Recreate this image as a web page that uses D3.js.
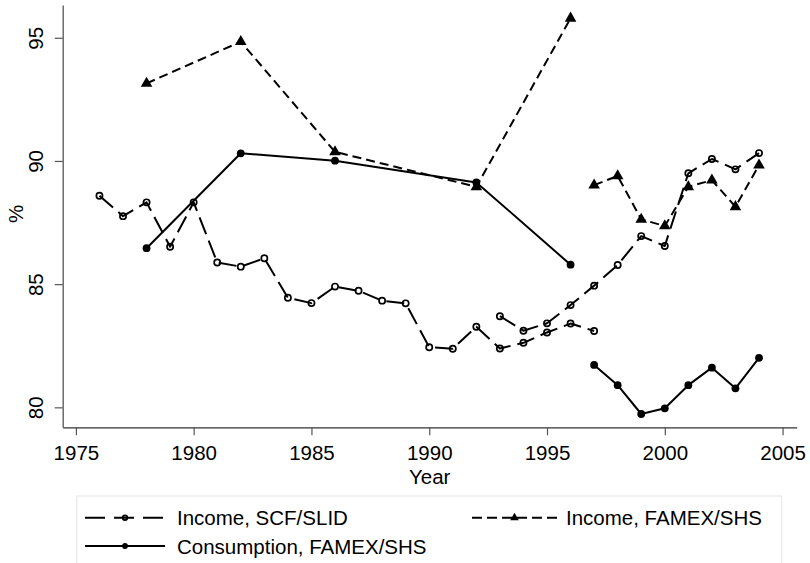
<!DOCTYPE html>
<html>
<head>
<meta charset="utf-8">
<script src="https://cdn.jsdelivr.net/npm/d3@7"></script>
<style>
  html, body { margin: 0; padding: 0; background: #fff; }
  svg { display: block; font-family: "Liberation Sans", Arial, Helvetica, sans-serif; }
</style>
</head>
<body>
<svg id="chart" width="810" height="563"></svg>
<script>
// Income survey series (SCF, then SLID)
const scfYears = [1976, 1977, 1978, 1979, 1980, 1981, 1982, 1983, 1984, 1985, 1986,
                  1987, 1988, 1989, 1990, 1991, 1992, 1993, 1994, 1995, 1996, 1997];
const scfValues = [88.59, 87.76, 88.32, 86.52, 88.32, 85.88, 85.71, 86.05, 84.45, 84.23, 84.90,
                   84.73, 84.33, 84.22, 82.44, 82.38, 83.27, 82.39, 82.62, 83.04, 83.40, 83.10];
const slidYears = [1993, 1994, 1995, 1996, 1997, 1998, 1999, 2000, 2001, 2002, 2003, 2004];
const slidValues = [83.70, 83.11, 83.41, 84.15, 84.94, 85.78, 86.95, 86.55, 89.50, 90.08, 89.66, 90.32];

// Expenditure survey series (FAMEX, then SHS)
const famexYears = [1978, 1982, 1986, 1992, 1996];
const famexIncome = [93.15, 94.84, 90.37, 88.95, 95.79];
const famexConsumption = [86.46, 90.31, 90.01, 89.13, 85.79];
const shsYears = [1997, 1998, 1999, 2000, 2001, 2002, 2003, 2004];
const shsIncome = [89.02, 89.39, 87.63, 87.36, 88.95, 89.22, 88.14, 89.83];
const shsConsumption = [81.72, 80.90, 79.73, 79.96, 80.90, 81.61, 80.77, 82.01];

const xTicks = [1975, 1980, 1985, 1990, 1995, 2000, 2005];
const yTicks = [80, 85, 90, 95];
const legendLabels = ["Income, SCF/SLID", "Income, FAMEX/SHS", "Consumption, FAMEX/SHS"];

const svg = d3.select("#chart");
const FONT = 20.5;

const x = d3.scaleLinear().domain([1974.44, 2005.6]).range([62.7, 796.7]);
const y = d3.scaleLinear().domain([79.19, 96.33]).range([427.3, 5]);

const zip = (xs, vs) => xs.map((d, i) => ({ year: d, value: vs[i] }));

// Axes
const xAxis = svg.append("g")
  .attr("transform", "translate(0,427.3)")
  .call(d3.axisBottom(x).tickValues(xTicks).tickFormat(d3.format("d")).tickSize(8).tickSizeOuter(0));
xAxis.select(".domain").attr("stroke", "#333").attr("stroke-width", 1.3);
xAxis.selectAll(".tick line").attr("stroke", "#555").attr("stroke-width", 1.2);
xAxis.selectAll(".tick text")
  .attr("font-size", FONT).attr("font-family", "Liberation Sans, Arial, sans-serif")
  .attr("fill", "#000").attr("dy", null).attr("y", 32.5);

const yAxis = svg.append("g")
  .attr("transform", "translate(62.7,0)")
  .call(d3.axisLeft(y).tickValues(yTicks).tickSize(8).tickSizeOuter(0));
yAxis.select(".domain").attr("stroke", "#555").attr("stroke-width", 1.3);
yAxis.selectAll(".tick line").attr("stroke", "#555").attr("stroke-width", 1.2);
yAxis.selectAll(".tick text").remove();
yAxis.selectAll(".tick").append("text")
  .attr("transform", "translate(-20,0) rotate(-90)")
  .attr("text-anchor", "middle")
  .attr("font-size", FONT).attr("fill", "#000")
  .text(d => d);

// Axis titles
svg.append("text")
  .attr("x", 429.7).attr("y", 483.5)
  .attr("text-anchor", "middle").attr("font-size", FONT)
  .text("Year");
svg.append("text")
  .attr("transform", "translate(22.5,214) rotate(-90)")
  .attr("text-anchor", "middle").attr("font-size", FONT)
  .text("%");

// Series drawing helpers
const lineGen = d3.line().x(d => x(d.year)).y(d => y(d.value));
const styles = {
  scf:   { dash: "18,7", legendDash: "20,9", marker: "hollow" },
  famex: { dash: "9,5",  legendDash: "10,5", marker: "triangle" },
  cons:  { dash: null,   legendDash: null,   marker: "filled" }
};

function drawMarker(g, kind, scale) {
  scale = scale || 1;
  if (kind === "hollow") {
    g.append("circle").attr("r", 3.1 * scale)
      .attr("fill", "none").attr("stroke", "#000").attr("stroke-width", 1.7);
  } else if (kind === "filled") {
    g.append("circle").attr("r", 3.9 * scale).attr("fill", "#000");
  } else {
    g.append("path").attr("d", d3.symbol().type(d3.symbolTriangle).size(58 * scale * scale)())
      .attr("fill", "#000");
  }
}

function drawSeries(data, style) {
  const path = svg.append("path")
    .datum(data)
    .attr("d", lineGen)
    .attr("fill", "none")
    .attr("stroke", "#000")
    .attr("stroke-width", 2)
    .attr("stroke-linejoin", "round");
  if (style.dash) path.attr("stroke-dasharray", style.dash);
  svg.append("g").selectAll("g")
    .data(data)
    .join("g")
    .attr("transform", d => `translate(${x(d.year)},${y(d.value)})`)
    .each(function () { drawMarker(d3.select(this), style.marker); });
}

drawSeries(zip(scfYears, scfValues), styles.scf);
drawSeries(zip(slidYears, slidValues), styles.scf);
drawSeries(zip(famexYears, famexIncome), styles.famex);
drawSeries(zip(shsYears, shsIncome), styles.famex);
drawSeries(zip(famexYears, famexConsumption), styles.cons);
drawSeries(zip(shsYears, shsConsumption), styles.cons);

// Legend
svg.append("rect")
  .attr("x", 76.7).attr("y", 496).attr("width", 705).attr("height", 80)
  .attr("fill", "#fff").attr("stroke", "#e4e4e4").attr("stroke-width", 1);

const legendItems = [
  { label: legendLabels[0], style: styles.scf,   x0: 85,  x1: 165, cy: 517.7, tx: 177 },
  { label: legendLabels[1], style: styles.famex, x0: 472, x1: 557, cy: 517.7, tx: 566 },
  { label: legendLabels[2], style: styles.cons,  x0: 85,  x1: 165, cy: 546,   tx: 177 }
];
legendItems.forEach(item => {
  const l = svg.append("line")
    .attr("x1", item.x0).attr("x2", item.x1)
    .attr("y1", item.cy).attr("y2", item.cy)
    .attr("stroke", "#000").attr("stroke-width", 2);
  if (item.style.legendDash) l.attr("stroke-dasharray", item.style.legendDash);
  const m = svg.append("g").attr("transform", `translate(${(item.x0 + item.x1) / 2},${item.cy})`);
  drawMarker(m, item.style.marker, 0.75);
  svg.append("text")
    .attr("x", item.tx).attr("y", item.cy + 7.5)
    .attr("font-size", FONT)
    .text(item.label);
});
</script>
</body>
</html>
